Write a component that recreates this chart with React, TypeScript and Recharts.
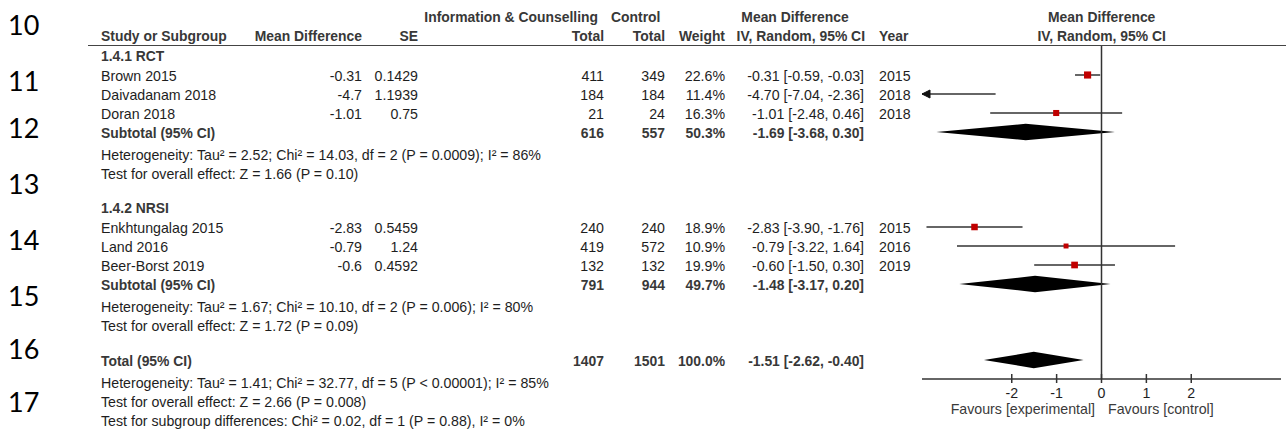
import React from 'react';
import { ComposedChart, XAxis, YAxis, Scatter, ReferenceLine, ReferenceArea } from 'recharts';

// ---------- data ----------
const studyNames = ['Brown 2015', 'Daivadanam 2018', 'Doran 2018', 'Enkhtungalag 2015', 'Land 2016', 'Beer-Borst 2019'];
const studyGroup = [0, 0, 0, 1, 1, 1];
const meanDiff = [-0.31, -4.7, -1.01, -2.83, -0.79, -0.6];
const stdErr = ['0.1429', '1.1939', '0.75', '0.5459', '1.24', '0.4592'];
const expTotal = [411, 184, 21, 240, 419, 132];
const ctrlTotal = [349, 184, 24, 240, 572, 132];
const weightPct = [22.6, 11.4, 16.3, 18.9, 10.9, 19.9];
const ciLow = [-0.59, -7.04, -2.48, -3.9, -3.22, -1.5];
const ciHigh = [-0.03, -2.36, 0.46, -1.76, 1.64, 0.3];
const studyYear = [2015, 2018, 2018, 2015, 2016, 2019];

const groupNames = ['1.4.1 RCT', '1.4.2 NRSI'];
const groupExpTotal = [616, 791];
const groupCtrlTotal = [557, 944];
const groupWeight = [50.3, 49.7];
const groupEst = [-1.69, -1.48];
const groupLow = [-3.68, -3.17];
const groupHigh = [0.3, 0.2];
const groupHeterogeneity = [
  'Heterogeneity: Tau² = 2.52; Chi² = 14.03, df = 2 (P = 0.0009); I² = 86%',
  'Heterogeneity: Tau² = 1.67; Chi² = 10.10, df = 2 (P = 0.006); I² = 80%',
];
const groupOverall = ['Test for overall effect: Z = 1.66 (P = 0.10)', 'Test for overall effect: Z = 1.72 (P = 0.09)'];

const totalLabel = 'Total (95% CI)';
const totalExp = 1407;
const totalCtrl = 1501;
const totalWeight = 100.0;
const totalEst = -1.51;
const totalLow = -2.62;
const totalHigh = -0.4;
const totalNotes = [
  'Heterogeneity: Tau² = 1.41; Chi² = 32.77, df = 5 (P < 0.00001); I² = 85%',
  'Test for overall effect: Z = 2.66 (P = 0.008)',
  'Test for subgroup differences: Chi² = 0.02, df = 1 (P = 0.88), I² = 0%',
];

const xTicks = [-2, -1, 0, 1, 2];
const xDomain: [number, number] = [-4, 4];
const rowNumbers = ['10', '11', '12', '13', '14', '15', '16', '17'];
const favoursLeft = 'Favours [experimental]';
const favoursRight = 'Favours [control]';

// ---------- layout ----------
const W = 1286;
const H = 432;
const ROW0 = 37;
const ROWH = 19;
const rowNumberY = [25, 81, 128, 184, 240, 296, 349, 402];
const COL = { study: 101, md: 362, se: 418, exp: 604, ctrl: 665, weight: 725, ci: 864, year: 879, plot: 1101.7 };
const FONT = '"Liberation Sans", Arial, sans-serif';
const FS = 14.2;
const FSB = 13.9;
const NORMAL = '#1e1e1e';
const BOLD = '#383838';

const fmtCI = (e: number, l: number, h: number) => `${e.toFixed(2)} [${l.toFixed(2)}, ${h.toFixed(2)}]`;

type RowItem =
  | { kind: 'group'; row: number; g: number }
  | { kind: 'study'; row: number; i: number }
  | { kind: 'subtotal'; row: number; g: number }
  | { kind: 'note'; row: number; text: string }
  | { kind: 'total'; row: number };

const rows: RowItem[] = [];
let r = 1;
groupNames.forEach((_, g) => {
  rows.push({ kind: 'group', row: r++, g });
  studyNames.forEach((__, i) => {
    if (studyGroup[i] === g) rows.push({ kind: 'study', row: r++, i });
  });
  rows.push({ kind: 'subtotal', row: r++, g });
  rows.push({ kind: 'note', row: r++, text: groupHeterogeneity[g] });
  rows.push({ kind: 'note', row: r++, text: groupOverall[g] });
  r++;
});
rows.push({ kind: 'total', row: r++ });
totalNotes.forEach((t) => rows.push({ kind: 'note', row: r++, text: t }));

const rowOf = (k: string, idx: number) => {
  const f = rows.find((x: any) => x.kind === k && (x.i === idx || x.g === idx || k === 'total'));
  return f ? f.row : 0;
};

const T = ({ x, y, children, align = 'left', bold = false, color, size, family = FONT }: any) => (
  <div
    style={{
      position: 'absolute',
      left: x,
      top: y - 9,
      lineHeight: '18px',
      height: 18,
      fontFamily: family,
      fontSize: size || (bold ? FSB : FS),
      fontWeight: bold ? 700 : 400,
      color: color || (bold ? BOLD : NORMAL),
      whiteSpace: 'nowrap',
      transform: align === 'right' ? 'translateX(-100%)' : align === 'center' ? 'translateX(-50%)' : undefined,
    }}
  >
    {children}
  </div>
);

const textY = (row: number) => ROW0 + ROWH * row + 1;

const AxisTick = (props: any) => {
  const { x, y, payload } = props;
  return (
    <g>
      <line x1={x} x2={x} y1={y - 5} y2={y + 4} stroke="#333" strokeWidth={1.5} />
      <text x={x} y={y + 14} textAnchor="middle" dominantBaseline="central" fontSize={FS} fontFamily={FONT} fill={NORMAL}>
        {payload.value}
      </text>
    </g>
  );
};

const Square = (props: any) => {
  const { cx, cy, payload } = props;
  const s = 1.5 * Math.sqrt(payload.w);
  return <rect x={cx - s / 2} y={cy - s / 2} width={s} height={s} fill="#c00000" />;
};

const makeCiShape = (leftArrow: boolean, rightArrow: boolean) => (p: any) => {
  const { x1, y1, x2, y2 } = p;
  return (
    <g>
      <line x1={x1} y1={y1} x2={x2} y2={y2} stroke="#333" strokeWidth={1.5} />
      {leftArrow && (
        <path d={`M${x1 + 8},${y1 - 4} L${x1},${y1} L${x1 + 8},${y1 + 4} Z`} fill="#111" stroke="#111" strokeWidth={1} />
      )}
      {rightArrow && (
        <path d={`M${x2 - 8},${y2 - 4} L${x2},${y2} L${x2 - 8},${y2 + 4} Z`} fill="#111" stroke="#111" strokeWidth={1} />
      )}
    </g>
  );
};

const makeDiamond = (est: number, lo: number, hi: number) => (p: any) => {
  const { x, y, width, height } = p;
  const cx = x + (width * (est - lo)) / (hi - lo);
  const cy = y + height / 2;
  return <polygon points={`${x},${cy} ${cx},${y} ${x + width},${cy} ${cx},${y + height}`} fill="#000" />;
};

export default function App() {
  const squarePoints = studyNames
    .map((_, i) => ({ x: meanDiff[i], y: rowOf('study', i), w: weightPct[i] }))
    .filter((p) => p.x >= xDomain[0] && p.x <= xDomain[1]);

  const diamonds = [
    ...groupNames.map((_, g) => ({ est: groupEst[g], lo: groupLow[g], hi: groupHigh[g], row: rowOf('subtotal', g) })),
    { est: totalEst, lo: totalLow, hi: totalHigh, row: rowOf('total', 0) },
  ];

  return (
    <div style={{ position: 'relative', width: W, height: H, background: '#fff', overflow: 'hidden' }}>
      <style>{'body{margin:0}'}</style>
      <div style={{ position: 'absolute', left: 0, top: 0 }}>
        <ComposedChart width={W} height={H} margin={{ top: ROW0, right: 5, bottom: 23, left: 922 }}>
          <XAxis
            type="number"
            dataKey="x"
            domain={xDomain}
            allowDataOverflow
            ticks={xTicks}
            interval={0}
            height={30}
            tickSize={0}
            tickMargin={0}
            tickLine={false}
            axisLine={{ stroke: '#333', strokeWidth: 1.5 }}
            tick={<AxisTick />}
          />
          <YAxis type="number" dataKey="y" domain={[0, 18]} allowDataOverflow reversed hide width={0} />
          <ReferenceLine segment={[{ x: 0, y: 0.42 }, { x: 0, y: 18 }]} stroke="#333" strokeWidth={1.5} />
          {studyNames.map((_, i) => {
            const lo = Math.max(ciLow[i], xDomain[0]);
            const hi = Math.min(ciHigh[i], xDomain[1]);
            const row = rowOf('study', i);
            return (
              <ReferenceLine
                key={'ci' + i}
                segment={[{ x: lo, y: row }, { x: hi, y: row }]}
                shape={makeCiShape(ciLow[i] < xDomain[0], ciHigh[i] > xDomain[1])}
              />
            );
          })}
          {diamonds.map((d, k) => (
            <ReferenceArea
              key={'d' + k}
              x1={d.lo}
              x2={d.hi}
              y1={d.row - 0.43}
              y2={d.row + 0.43}
              shape={makeDiamond(d.est, d.lo, d.hi)}
            />
          ))}
          <Scatter data={squarePoints} shape={<Square />} isAnimationActive={false} />
        </ComposedChart>
      </div>

      {/* row numbers */}
      {rowNumbers.map((n, k) => (
        <T key={'rn' + k} x={8} y={rowNumberY[k]} size={27} family="Lato, sans-serif" color="#000">
          {n}
        </T>
      ))}

      {/* header */}
      <T x={598} y={17} align="right" bold>Information &amp; Counselling</T>
      <T x={611} y={17} bold>Control</T>
      <T x={795} y={17} align="center" bold>Mean Difference</T>
      <T x={COL.plot} y={17} align="center" bold>Mean Difference</T>
      <T x={COL.study} y={36} bold>Study or Subgroup</T>
      <T x={COL.md} y={36} align="right" bold>Mean Difference</T>
      <T x={COL.se} y={36} align="right" bold>SE</T>
      <T x={COL.exp} y={36} align="right" bold>Total</T>
      <T x={COL.ctrl} y={36} align="right" bold>Total</T>
      <T x={COL.weight} y={36} align="right" bold>Weight</T>
      <T x={COL.ci + 1} y={36} align="right" bold>IV, Random, 95% CI</T>
      <T x={COL.year} y={36} bold>Year</T>
      <T x={COL.plot} y={36} align="center" bold>IV, Random, 95% CI</T>
      <div style={{ position: 'absolute', left: 88, top: 44.5, width: W - 88, height: 1.5, background: '#444' }} />

      {rows.map((it, k) => {
        const y = textY(it.row);
        if (it.kind === 'group') {
          return <T key={k} x={COL.study} y={y - 1} bold>{groupNames[it.g]}</T>;
        }
        if (it.kind === 'study') {
          const i = it.i;
          return (
            <React.Fragment key={k}>
              <T x={COL.study} y={y}>{studyNames[i]}</T>
              <T x={COL.md} y={y} align="right">{String(meanDiff[i])}</T>
              <T x={COL.se} y={y} align="right">{stdErr[i]}</T>
              <T x={COL.exp} y={y} align="right">{expTotal[i]}</T>
              <T x={COL.ctrl} y={y} align="right">{ctrlTotal[i]}</T>
              <T x={COL.weight} y={y} align="right">{weightPct[i].toFixed(1)}%</T>
              <T x={COL.ci} y={y} align="right">{fmtCI(meanDiff[i], ciLow[i], ciHigh[i])}</T>
              <T x={COL.year} y={y}>{studyYear[i]}</T>
            </React.Fragment>
          );
        }
        if (it.kind === 'subtotal') {
          const g = it.g;
          return (
            <React.Fragment key={k}>
              <T x={COL.study} y={y} bold>Subtotal (95% CI)</T>
              <T x={COL.exp} y={y} align="right" bold>{groupExpTotal[g]}</T>
              <T x={COL.ctrl} y={y} align="right" bold>{groupCtrlTotal[g]}</T>
              <T x={COL.weight} y={y} align="right" bold>{groupWeight[g].toFixed(1)}%</T>
              <T x={COL.ci} y={y} align="right" bold>{fmtCI(groupEst[g], groupLow[g], groupHigh[g])}</T>
            </React.Fragment>
          );
        }
        if (it.kind === 'total') {
          return (
            <React.Fragment key={k}>
              <T x={COL.study} y={y} bold>{totalLabel}</T>
              <T x={COL.exp} y={y} align="right" bold>{totalExp}</T>
              <T x={COL.ctrl} y={y} align="right" bold>{totalCtrl}</T>
              <T x={COL.weight} y={y} align="right" bold>{totalWeight.toFixed(1)}%</T>
              <T x={COL.ci} y={y} align="right" bold>{fmtCI(totalEst, totalLow, totalHigh)}</T>
            </React.Fragment>
          );
        }
        return <T key={k} x={COL.study} y={y + 3}>{it.text}</T>;
      })}

      <T x={1095} y={409} align="right" color="#3a3a3a">{favoursLeft}</T>
      <T x={1108} y={409} color="#3a3a3a">{favoursRight}</T>
    </div>
  );
}
